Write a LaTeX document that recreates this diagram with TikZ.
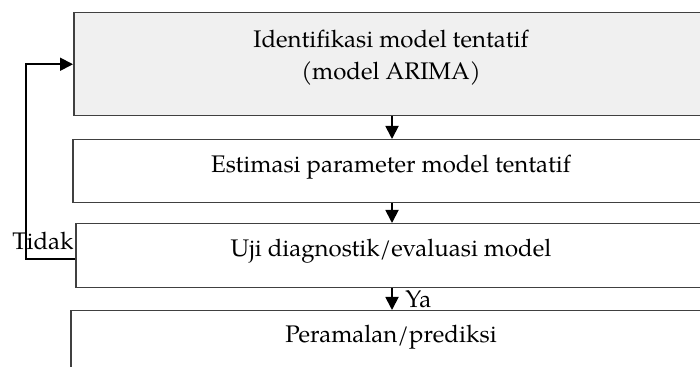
\documentclass[tikz,border=0pt]{standalone}
\usepackage{fontspec}
\setmainfont{TeX Gyre Pagella}
\usetikzlibrary{arrows.meta}
\begin{document}
\begin{tikzpicture}[x=0.5pt,y=-0.5pt,
  stage/.style={draw=black!75, line width=0.75pt, rectangle, minimum width=318pt,
    inner sep=0pt, anchor=north west},
  caption/.style={font=\fontsize{12}{16}\selectfont, align=center, inner sep=0pt},
  flow/.style={line width=0.9pt, -{Triangle[length=6.5pt,width=6.5pt]}},
]
\useasboundingbox (0,0) rectangle (700,367);
\clip (0,0) rectangle (700,367);

% process boxes
\node[stage, fill=gray!12, minimum height=51.5pt] (ident) at (73,12) {};
\node[stage, minimum height=31.5pt] (estim) at (72,139) {};
\node[stage, minimum height=32pt] (uji) at (75,223) {};
\node[stage, minimum height=40pt] (ramal) at (70,310) {};

% box texts
\node[caption] (identtext) at (391,58) {Identifikasi model tentatif\\(model ARIMA)};
\node[caption] (estimtext) at (391,167) {Estimasi parameter model tentatif};
\node[caption] (ujitext) at (391,251) {Uji diagnostik/evaluasi model};
\node[caption] (ramaltext) at (391,337) {Peramalan/prediksi};

% main flow
\coordinate (axis) at (392,0);
\draw[flow] (ident.south -| axis) -- (estim.north -| axis);
\draw[flow] (estim.south -| axis) -- (uji.north -| axis);
\draw[flow] (uji.south -| axis) -- (ramal.north -| axis);
\node[caption, anchor=west] (ya) at (405,299) {Ya};

% feedback loop
\draw[flow] ([yshift=-1.5pt]uji.west) -- ++(-49,0) |- (ident.west);
\node[caption] (tidak) at (43,241) {Tidak};
\end{tikzpicture}
\end{document}
